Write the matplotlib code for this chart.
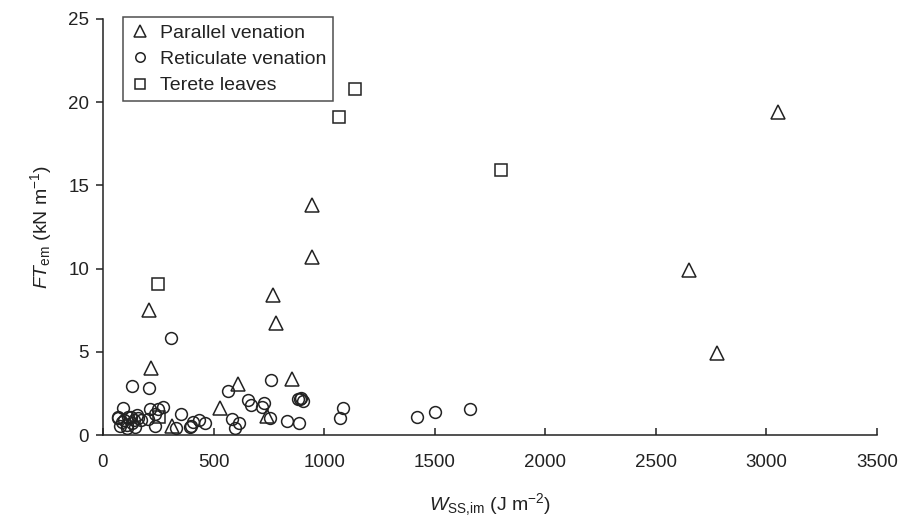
import matplotlib
matplotlib.use("Agg")
import matplotlib.pyplot as plt

plt.rcParams['font.family'] = ['Liberation Sans', 'DejaVu Sans']
plt.rcParams['mathtext.fontset'] = 'custom'
plt.rcParams['mathtext.rm'] = 'Liberation Sans'
plt.rcParams['mathtext.it'] = 'Liberation Sans:italic'

# Parallel venation (triangles)
par_x = [3054, 2652, 2778, 945, 945, 770, 782, 210, 217, 612, 856, 529, 743, 310]
par_y = [19.4, 9.9, 4.9, 13.8, 10.7, 8.4, 6.75, 7.5, 4.0, 3.07, 3.35, 1.6, 1.16, 0.54]

# Reticulate venation (circles)
ret_x = [306, 131, 207, 564, 758, 883, 891, 906, 894, 654, 668, 728, 720, 755,
         831, 888, 582, 615, 597, 351, 330, 397, 408, 436, 461, 393, 212, 247,
         270, 235, 205, 235, 1084, 1073, 1419, 1502, 1660,
         92, 69, 77, 107, 130, 152, 160, 115, 95, 140, 69, 125, 85, 110, 145, 170]
ret_y = [5.8, 2.95, 2.83, 2.65, 3.3, 2.17, 2.17, 2.07, 2.25, 2.1, 1.8, 1.95, 1.67, 1.0,
         0.86, 0.7, 0.96, 0.7, 0.44, 1.25, 0.4, 0.54, 0.8, 0.9, 0.7, 0.46, 1.55, 1.57,
         1.67, 1.25, 0.94, 0.54, 1.6, 1.0, 1.06, 1.4, 1.55,
         1.6, 1.0, 0.54, 0.4, 0.7, 1.2, 1.0, 1.06, 0.9, 0.9, 1.1, 1.1, 0.8, 0.6, 0.5, 0.9]

# Terete leaves (squares)
ter_x = [1140, 1067, 1800, 250, 255]
ter_y = [20.8, 19.1, 15.9, 9.1, 1.1]

fig = plt.figure(figsize=(9, 5.32), dpi=100)
ax = fig.add_axes([0.1144, 0.1823, 0.86, 0.7820])

ec = '#222222'
ax.plot(par_x, par_y, linestyle='none', marker='^', ms=10.5, mfc='none', mec=ec, mew=1.1,
        label='Parallel venation')
ax.plot(ret_x, ret_y, linestyle='none', marker='o', ms=8.5, mfc='none', mec=ec, mew=1.1,
        label='Reticulate venation')
ax.plot(ter_x, ter_y, linestyle='none', marker='s', ms=8.5, mfc='none', mec=ec, mew=1.1,
        label='Terete leaves')

ax.set_xlim(0, 3500)
ax.set_ylim(0, 25)
ax.set_xticks(range(0, 3501, 500))
ax.set_yticks(range(0, 26, 5))

ax.spines['top'].set_visible(False)
ax.spines['right'].set_visible(False)
for s in ('left', 'bottom'):
    ax.spines[s].set_color(ec)
    ax.spines[s].set_linewidth(1.1)

ax.tick_params(axis='x', direction='in', length=5, width=1.1, color=ec,
               labelsize=13.5, pad=14, labelcolor=ec)
ax.tick_params(axis='y', direction='out', length=5, width=1.1, color=ec,
               labelsize=13.5, pad=5, labelcolor=ec)

ax.set_xlabel(r'$\mathit{W}_{\mathregular{SS{,}im}}$ (J m$^{-2}$)', fontsize=14, color=ec,
              labelpad=14)
ax.set_ylabel(r'$\mathit{FT}_{\mathregular{em}}$ (kN m$^{-1}$)', fontsize=14, color=ec,
              labelpad=10)

leg = ax.legend(loc='upper left', bbox_to_anchor=(0.026, 1.004), fontsize=14,
                frameon=True, fancybox=False, handletextpad=0.55, handlelength=1.0,
                borderpad=0.35, labelspacing=0.45, borderaxespad=0, markerscale=0.8)
leg.get_frame().set_edgecolor(ec)
leg.get_frame().set_linewidth(1.1)
for t in leg.get_texts():
    t.set_color(ec)

fig.savefig('out.png', dpi=100)
